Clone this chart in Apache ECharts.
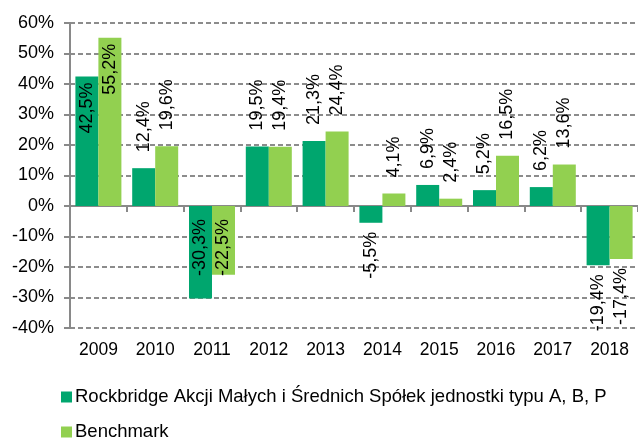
<!DOCTYPE html>
<html>
<head>
<meta charset="utf-8">
<script src="https://cdn.jsdelivr.net/npm/echarts@6/dist/echarts.min.js"></script>
<style>html,body{margin:0;padding:0;background:#fff}#c{width:638px;height:438px}</style>
</head>
<body>
<div id="c"></div>
<script>
const categories = ['2009','2010','2011','2012','2013','2014','2015','2016','2017','2018'];
const fundValues = [42.5, 12.4, -30.3, 19.5, 21.3, -5.5, 6.9, 5.2, 6.2, -19.4];
const benchValues = [55.2, 19.6, -22.5, 19.4, 24.4, 4.1, 2.4, 16.5, 13.6, -17.4];
const seriesNames = ['Rockbridge Akcji Małych i Średnich Spółek jednostki typu A, B, P', 'Benchmark'];
const yTicks = { min: -40, max: 60, interval: 10 };

// label placement modes (style, not data)
const fundPlacement = ['inEnd','out','inBase','out','out','out','out','out','out','out'];
const benchPlacement = ['inEnd','out','inBase','out','out','out','out','out','out','out'];

const FONT = 'Liberation Sans, Arial, sans-serif';
const fmt = v => v.toFixed(1).replace('.', ',') + '%';

function labelFor(v, mode) {
  const base = { show: true, rotate: 90, verticalAlign: 'middle', color: '#000', fontSize: 18, fontFamily: FONT, formatter: p => fmt(p.value) };
  if (mode === 'inEnd') return Object.assign(base, { position: 'insideTop', align: 'right', distance: 6 });
  if (mode === 'inBase') return Object.assign(base, { position: 'insideTop', align: 'right', distance: 13 });
  if (v >= 0) return Object.assign(base, { position: 'top', align: 'left', distance: 16 });
  return Object.assign(base, { position: 'bottom', align: 'right', distance: 9 });
}
const mk = (vals, modes) => vals.map((v, i) => ({ value: v, label: labelFor(v, modes[i]) }));

const chart = echarts.init(document.getElementById('c'));
chart.setOption({
  animation: false,
  textStyle: { fontFamily: FONT },
  grid: { left: 70, top: 23, width: 572, height: 305, containLabel: false },
  legend: {
    orient: 'vertical', left: 61, top: 387, height: 90, padding: 0,
    itemWidth: 11, itemHeight: 11, itemGap: 15, icon: 'rect',
    textStyle: { fontSize: 18.5, color: '#000', fontFamily: FONT, lineHeight: 20, padding: [0,0,0,-2] },
    data: seriesNames
  },
  xAxis: [{
    type: 'category', data: categories, position: 'bottom',
    axisLine: { show: false, onZero: false }, axisTick: { show: false },
    axisLabel: { fontSize: 17.5, color: '#000', margin: 13, fontFamily: FONT }
  }, {
    type: 'category', data: categories, position: 'top',
    axisLine: { show: true, onZero: true, lineStyle: { color: '#898989', width: 2 } },
    axisTick: { show: true, inside: true, length: 6, lineStyle: { color: '#898989', width: 2 } },
    axisLabel: { show: false }
  }],
  yAxis: {
    type: 'value', min: yTicks.min, max: yTicks.max, interval: yTicks.interval,
    axisLine: { show: true, lineStyle: { color: '#898989', width: 2 } },
    axisTick: { show: true, length: 6, lineStyle: { color: '#898989', width: 2 } },
    axisLabel: { fontSize: 18, color: '#000', margin: 16, formatter: v => v + '%', fontFamily: FONT },
    splitLine: { show: true, lineStyle: { color: '#8c8c8c', width: 2, type: [5, 3] } }
  },
  series: [{
    name: seriesNames[0], type: 'bar', xAxisIndex: 0, barWidth: 23, barGap: '0%',
    itemStyle: { color: '#00A66E' }, data: mk(fundValues, fundPlacement)
  }, {
    name: seriesNames[1], type: 'bar', xAxisIndex: 0, barWidth: 23, barGap: '0%',
    itemStyle: { color: '#92D050' }, data: mk(benchValues, benchPlacement)
  }]
});
</script>
</body>
</html>
